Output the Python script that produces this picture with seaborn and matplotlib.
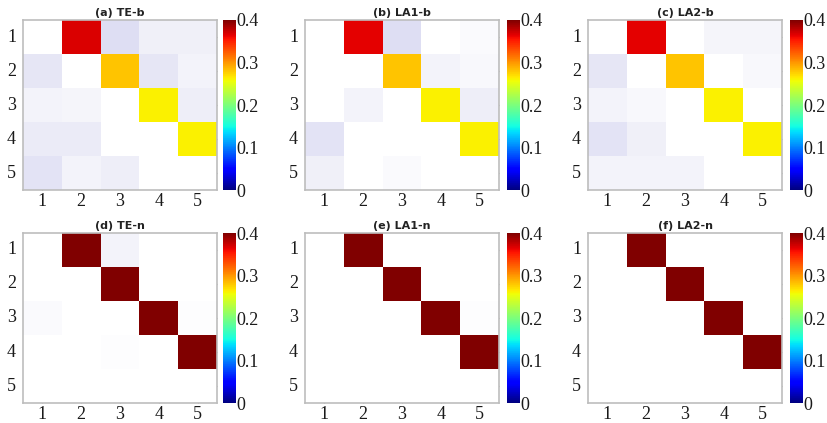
import numpy as np
import matplotlib
matplotlib.use("Agg")
import matplotlib.pyplot as plt
from matplotlib.colors import ListedColormap, Normalize
from matplotlib.cm import ScalarMappable
import seaborn as sns

sns.set_style("white")

nodes = ["1", "2", "3", "4", "5"]
cbar_ticks = [0, 0.1, 0.2, 0.3, 0.4]
cbar_labels = ["0", "0.1", "0.2", "0.3", "0.4"]
titles = ["(a) TE-b", "(b) LA1-b", "(c) LA2-b", "(d) TE-n", "(e) LA1-n", "(f) LA2-n"]

te_b = [
    [0.000, 0.368, 0.013, 0.006, 0.006],
    [0.010, 0.000, 0.280, 0.010, 0.005],
    [0.005, 0.004, 0.000, 0.262, 0.007],
    [0.008, 0.008, 0.000, 0.000, 0.262],
    [0.011, 0.005, 0.007, 0.000, 0.000],
]
la1_b = [
    [0.000, 0.365, 0.013, 0.000, 0.002],
    [0.000, 0.000, 0.280, 0.005, 0.003],
    [0.000, 0.005, 0.000, 0.262, 0.007],
    [0.011, 0.000, 0.000, 0.000, 0.262],
    [0.006, 0.000, 0.002, 0.000, 0.000],
]
la2_b = [
    [0.000, 0.365, 0.000, 0.004, 0.004],
    [0.010, 0.000, 0.280, 0.000, 0.003],
    [0.005, 0.003, 0.000, 0.262, 0.000],
    [0.011, 0.006, 0.000, 0.000, 0.262],
    [0.005, 0.005, 0.005, 0.000, 0.000],
]
te_n = [
    [0.000, 0.450, 0.005, 0.000, 0.000],
    [0.000, 0.000, 0.450, 0.000, 0.000],
    [0.002, 0.000, 0.000, 0.450, 0.001],
    [0.000, 0.000, 0.001, 0.000, 0.450],
    [0.000, 0.000, 0.000, 0.000, 0.000],
]
la1_n = [
    [0.000, 0.450, 0.000, 0.000, 0.000],
    [0.000, 0.000, 0.450, 0.000, 0.000],
    [0.000, 0.000, 0.000, 0.450, 0.001],
    [0.000, 0.000, 0.000, 0.000, 0.450],
    [0.000, 0.000, 0.000, 0.000, 0.000],
]
la2_n = [
    [0.000, 0.450, 0.000, 0.000, 0.000],
    [0.000, 0.000, 0.450, 0.000, 0.000],
    [0.000, 0.000, 0.000, 0.450, 0.000],
    [0.000, 0.000, 0.000, 0.000, 0.450],
    [0.000, 0.000, 0.000, 0.000, 0.000],
]
panels = [te_b, la1_b, la2_b, te_n, la1_n, la2_n]

VMAX = 0.4

# Cell colormap: jet, faded towards white for weak couplings
jet = plt.get_cmap("jet")
xs = np.linspace(0, 1, 1024)
w = np.clip(xs * VMAX / 0.1, 0, 1)[:, None]
cell_colors = (1 - w) * np.ones((1024, 3)) + w * jet(xs)[:, :3]
cell_cmap = ListedColormap(cell_colors)

W, H = 827, 423
fig = plt.figure(figsize=(W / 100, H / 100), dpi=100)

col_left = [23, 305, 588]
col_right = [217, 499, 782]
cbar_left = [223, 507, 790]
cbar_w = 13
row_top = [20, 233]
row_h = 170

serif = ["Liberation Serif", "DejaVu Serif"]
edge = "#bdbdbd"
text_c = "#1a1a1a"

for i, (data, title) in enumerate(zip(panels, titles)):
    r, c = divmod(i, 3)
    x0, x1 = col_left[c], col_right[c]
    y0 = row_top[r]
    ax = fig.add_axes([x0 / W, 1 - (y0 + row_h) / H, (x1 - x0) / W, row_h / H])
    sns.heatmap(np.array(data), ax=ax, cmap=cell_cmap, vmin=0, vmax=VMAX,
                cbar=False, xticklabels=nodes, yticklabels=nodes, square=False)
    for s in ax.spines.values():
        s.set_visible(True)
        s.set_color(edge)
        s.set_linewidth(1.2)
    ax.tick_params(direction="in", length=2.5, width=0.8, color="#888888",
                   top=True, right=True, bottom=True, left=True,
                   labelcolor=text_c)
    ax.tick_params(axis="x", pad=2.5)
    ax.tick_params(axis="y", pad=5)
    ax.set_yticklabels(nodes, rotation=0, fontfamily=serif, fontsize=13)
    ax.set_xticklabels(nodes, rotation=0, fontfamily=serif, fontsize=13)
    ax.set_title(title, fontsize=8, fontweight="bold", pad=3,
                 fontfamily="DejaVu Sans", color="#222222")

    cax = fig.add_axes([cbar_left[c] / W, 1 - (y0 + row_h) / H, cbar_w / W, row_h / H])
    sm = ScalarMappable(norm=Normalize(0, VMAX), cmap=jet)
    cb = fig.colorbar(sm, cax=cax, ticks=cbar_ticks)
    cb.outline.set_visible(False)
    cb.ax.set_yticklabels(cbar_labels, fontfamily=serif, fontsize=13, color=text_c)
    cb.ax.tick_params(length=0, pad=0.5)

fig.savefig("out.png", dpi=100, facecolor="white")
